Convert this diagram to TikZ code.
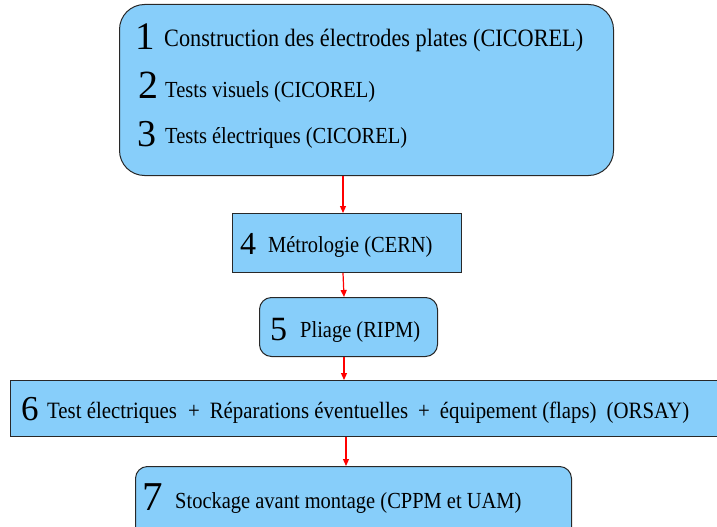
\documentclass[tikz,border=0pt]{standalone}
\usepackage{fontspec}
\setmainfont{Liberation Serif}[FakeStretch=0.89]
\newfontfamily\digitfont{Liberation Serif}
\usetikzlibrary{arrows.meta}
\definecolor{boxblue}{RGB}{135,206,250}
\definecolor{edge}{RGB}{40,40,40}
\newcommand{\fs}[1]{\fontsize{#1}{#1}\selectfont}
\newcommand{\ds}[1]{\digitfont\fontsize{#1}{#1}\selectfont}
\tikzset{
  box/.style={draw=edge, line width=1pt, fill=boxblue, anchor=north west, inner sep=0pt},
  rbox/.style={box, rounded corners=#1},
  txt/.style={anchor=base west, inner sep=0pt},
  arr/.style={draw=red, line width=1.2pt, -{Triangle[length=7pt,width=6pt]}}
}
\begin{document}
\begin{tikzpicture}[x=1pt,y=-1pt]
\useasboundingbox (0,0) rectangle (717,527);
% boxes
\node[rbox=25pt, minimum width=494pt, minimum height=171pt] (b1) at (119,4) {};
\node[box, minimum width=229pt, minimum height=59pt] (b4) at (232,213) {};
\node[rbox=12pt, minimum width=178pt, minimum height=59pt] (b5) at (259,297) {};
\node[box, minimum width=720pt, minimum height=56pt] (b6) at (10,380) {};
\node[rbox=12pt, minimum width=436pt, minimum height=80pt] (b7) at (135,466) {};
% texts
\node[txt, font=\ds{39}] (d1) at (135,49) {1};
\node[txt, font=\fs{25}] (t1) at (164,47) {Construction des électrodes plates (CICOREL)};
\node[txt, font=\ds{40}] (d2) at (138,98) {2};
\node[txt, font=\fs{23}] (t2) at (165,97) {Tests visuels (CICOREL)};
\node[txt, font=\ds{38}] (d3) at (137,146) {3};
\node[txt, font=\fs{23}] (t3) at (165,143) {Tests électriques (CICOREL)};
\node[txt, font=\ds{32}] (d4) at (240,254) {4};
\node[txt, font=\fs{23}] (t4) at (268,252) {Métrologie (CERN)};
\node[txt, font=\ds{34}] (d5) at (270,340) {5};
\node[txt, font=\fs{23}] (t5) at (300,337) {Pliage (RIPM)};
\node[txt, font=\ds{35}] (d6) at (21,420) {6};
\node[txt, font=\fs{23.4}] (t6) at (47,418) {Test électriques\hspace{11pt}+\hspace{10pt}Réparations éventuelles\hspace{10pt}+\hspace{10pt}équipement (flaps)\hspace{10pt}(ORSAY)};
\node[txt, font=\ds{41}] (d7) at (142,510) {7};
\node[txt, font=\fs{23}] (t7) at (175,508) {Stockage avant montage (CPPM et UAM)};
% connectors
\coordinate (x1) at (343,0);
\coordinate (x2) at (344,0);
\coordinate (x3) at (346,0);
\draw[arr] (b1.south -| x1) -- (b4.north -| x1);
\draw[arr] (b4.south -| x1) -- (b5.north -| x2);
\draw[arr] (b5.south -| x2) -- (b6.north -| x2);
\draw[arr] (b6.south -| x3) -- (b7.north -| x3);
\end{tikzpicture}
\end{document}
